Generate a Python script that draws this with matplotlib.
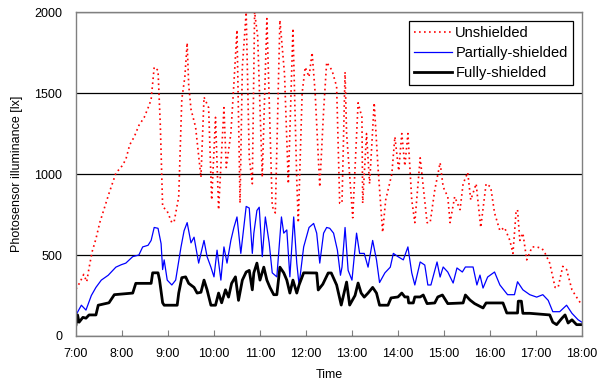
import matplotlib
matplotlib.use("Agg")
import matplotlib.pyplot as plt
import numpy as np

plt.rcParams["font.family"] = ["Liberation Sans", "DejaVu Sans"]

# ---------------------------------------------------------------------------
# Data
# ---------------------------------------------------------------------------
unshielded_t = [
    "07:00", "07:05", "07:10", "07:14", "07:17", "07:21", "07:26", "07:31", "07:37", "07:43",
    "07:52", "08:00", "08:05", "08:10", "08:16", "08:22", "08:29", "08:35", "08:38", "08:42",
    "08:47", "08:50", "08:53", "08:59", "09:05", "09:08", "09:14", "09:18", "09:22", "09:25",
    "09:27", "09:30", "09:36", "09:43", "09:47", "09:53", "09:57", "10:02", "10:06", "10:13",
    "10:16", "10:22", "10:26", "10:30", "10:34", "10:37", "10:42", "10:46", "10:50", "10:53",
    "10:57", "11:03", "11:09", "11:16", "11:20", "11:26", "11:32", "11:37", "11:43", "11:48",
    "11:50", "11:55", "11:59", "12:04", "12:08", "12:12", "12:18", "12:23", "12:27", "12:34",
    "12:40", "12:44", "12:47", "12:51", "12:53", "13:01", "13:08", "13:13", "13:14", "13:19",
    "13:23", "13:29", "13:34", "13:40", "13:44", "13:52", "13:56", "14:01", "14:05", "14:09",
    "14:13", "14:18", "14:22", "14:29", "14:33", "14:38", "14:42", "14:48", "14:55", "14:59",
    "15:05", "15:08", "15:14", "15:21", "15:25", "15:31", "15:35", "15:42", "15:48", "15:55",
    "16:01", "16:06", "16:13", "16:19", "16:26", "16:30", "16:34", "16:36", "16:39", "16:43",
    "16:48", "16:55", "17:01", "17:08", "17:12", "17:18", "17:25", "17:29", "17:35", "17:40",
    "17:47", "17:53", "18:00",
]
unshielded_v = [
    290, 330, 380, 335, 420, 520, 600, 700, 790, 880,
    1005, 1050, 1090, 1180, 1230, 1300, 1350, 1420, 1460, 1660,
    1640, 1300, 800, 770, 700, 705, 860, 1460, 1600, 1810,
    1550, 1400, 1290, 980, 1475, 1410, 840, 1350, 780, 1410,
    1040, 1250, 1560, 1890, 820, 1660, 2000, 1100, 940, 2000,
    1850, 980, 1960, 800, 760, 1950, 1620, 940, 1900, 960,
    700, 1500, 1660, 1600, 1750, 1500, 920, 1390, 1690, 1640,
    1540, 820, 820, 1630, 1250, 730, 1440, 1350, 820, 1250,
    940, 1440, 1040, 640, 840, 1000, 1230, 1020, 1250, 1050,
    1250, 840, 700, 1100, 920, 700, 700, 900, 1070, 920,
    860, 700, 860, 780, 940, 1010, 840, 940, 670, 940,
    920, 760, 650, 670, 590, 510, 760, 780, 590, 635,
    470, 550, 550, 540, 510, 450, 300, 300, 430, 410,
    285, 240, 190,
]

partial_t = [
    "07:00", "07:07", "07:13", "07:20", "07:26", "07:33", "07:42", "07:52", "07:59", "08:05",
    "08:14", "08:22", "08:27", "08:34", "08:38", "08:42", "08:47", "08:51", "08:53", "08:55",
    "08:59", "09:05", "09:10", "09:17", "09:21", "09:25", "09:30", "09:34", "09:40", "09:47",
    "09:51", "09:56", "10:00", "10:04", "10:09", "10:13", "10:17", "10:22", "10:26", "10:30",
    "10:35", "10:42", "10:46", "10:50", "10:52", "10:56", "10:59", "11:03", "11:07", "11:12",
    "11:16", "11:22", "11:28", "11:31", "11:35", "11:39", "11:44", "11:48", "11:51", "11:57",
    "12:04", "12:10", "12:14", "12:18", "12:23", "12:27", "12:31", "12:36", "12:41", "12:45",
    "12:47", "12:51", "12:55", "13:00", "13:06", "13:10", "13:16", "13:21", "13:27", "13:32",
    "13:36", "13:43", "13:50", "13:54", "14:00", "14:07", "14:13", "14:18", "14:22", "14:29",
    "14:35", "14:39", "14:43", "14:51", "14:55", "14:59", "15:05", "15:12", "15:17", "15:24",
    "15:28", "15:38", "15:43", "15:47", "15:51", "15:57", "16:06", "16:13", "16:23", "16:32",
    "16:36", "16:43", "16:52", "17:01", "17:09", "17:16", "17:22", "17:31", "17:40", "17:47",
    "17:55", "18:00",
]
partial_v = [
    130, 190, 160, 250, 300, 345, 375, 425, 440, 450,
    490, 500, 550, 560, 590, 670, 665, 570, 410, 470,
    345, 315, 345, 550, 650, 700, 575, 610, 450, 590,
    490, 425, 365, 530, 345, 550, 450, 590, 670, 735,
    510, 800, 790, 510, 635, 775, 795, 490, 735, 575,
    390, 365, 735, 635, 655, 365, 735, 450, 315, 550,
    670, 695, 635, 450, 635, 670, 665, 635, 530, 375,
    425, 670, 405, 345, 635, 510, 510, 425, 590, 470,
    330, 390, 425, 510, 490, 470, 550, 390, 315, 457,
    438, 315, 315, 457, 364, 426, 395, 327, 420, 395,
    426, 426, 315, 376, 296, 364, 395, 315, 255, 255,
    335, 285, 255, 240, 255, 220, 150, 150, 190, 140,
    100, 85,
]

full_t = [
    "07:00", "07:02", "07:04", "07:09", "07:13", "07:17", "07:26", "07:29", "07:43", "07:50",
    "08:14", "08:18", "08:38", "08:40", "08:47", "08:49", "08:53", "08:55", "09:12", "09:14",
    "09:18", "09:23", "09:27", "09:34", "09:38", "09:43", "09:47", "09:51", "09:56", "10:02",
    "10:06", "10:10", "10:15", "10:19", "10:23", "10:28", "10:32", "10:37", "10:42", "10:46",
    "10:50", "10:52", "10:56", "11:00", "11:05", "11:09", "11:13", "11:18", "11:22", "11:26",
    "11:31", "11:35", "11:39", "11:43", "11:48", "11:51", "11:57", "12:14", "12:16", "12:22",
    "12:29", "12:33", "12:40", "12:46", "12:53", "12:57", "13:04", "13:08", "13:12", "13:16",
    "13:21", "13:27", "13:32", "13:36", "13:47", "13:51", "14:00", "14:05", "14:09", "14:13",
    "14:14", "14:20", "14:22", "14:29", "14:33", "14:38", "14:48", "14:52", "14:58", "15:05",
    "15:25", "15:28", "15:34", "15:40", "15:51", "15:55", "16:17", "16:22", "16:36", "16:37",
    "16:41", "16:43", "16:52", "17:18", "17:22", "17:27", "17:34", "17:38", "17:42", "17:47",
    "17:53", "18:00",
]
full_v = [
    70, 130, 85, 115, 110, 130, 130, 190, 205, 255,
    265, 325, 325, 390, 390, 345, 205, 190, 190, 265,
    360, 365, 325, 300, 265, 270, 345, 285, 190, 190,
    265, 205, 285, 240, 325, 365, 220, 345, 395, 405,
    285, 390, 450, 345, 425, 345, 300, 255, 255, 425,
    390, 345, 265, 345, 265, 315, 390, 389, 284, 320,
    389, 389, 315, 191, 333, 191, 250, 327, 265, 240,
    265, 300, 265, 190, 190, 235, 241, 265, 241, 241,
    204, 204, 241, 241, 253, 200, 204, 241, 253, 200,
    204, 253, 222, 200, 173, 204, 204, 142, 142, 215,
    215, 140, 140, 130, 85, 70, 110, 130, 80, 100,
    70, 70,
]

x_ticks = [f"{h}:00" for h in range(7, 19)]
y_ticks = [0, 500, 1000, 1500, 2000]


def to_hours(times):
    return np.array([int(s[:2]) + int(s[3:]) / 60 for s in times])


# ---------------------------------------------------------------------------
# Plot
# ---------------------------------------------------------------------------
fig = plt.figure(figsize=(6.11, 3.9), dpi=100)
ax = fig.add_axes([0.1244, 0.1385, 0.828, 0.8305])

ax.plot(to_hours(unshielded_t), unshielded_v, color="#ff0000",
        linestyle=(0, (1, 2)), linewidth=1.2, label="Unshielded")
ax.plot(to_hours(partial_t), partial_v, color="#0000ff",
        linewidth=0.9, label="Partially-shielded")
ax.plot(to_hours(full_t), full_v, color="black",
        linewidth=2.0, label="Fully-shielded")

ax.set_xlim(7, 18)
ax.set_ylim(0, 2000)
ax.set_xticks(range(7, 19))
ax.set_xticklabels(x_ticks)
ax.set_yticks(y_ticks)
ax.yaxis.grid(True, color="black", linewidth=0.9)
ax.set_axisbelow(True)

ax.tick_params(axis="x", direction="in", length=4, color="#808080",
               labelsize=9, pad=9)
ax.tick_params(axis="y", length=0, labelsize=9, pad=10)
for s in ax.spines.values():
    s.set_color("#808080")
    s.set_linewidth(1.0)

ax.set_xlabel("Time", fontsize=9, labelpad=6)
ax.set_ylabel("Photosensor illuminance [lx]", fontsize=9, labelpad=8)

leg = ax.legend(loc="upper right", bbox_to_anchor=(0.982, 0.973), fontsize=10.5,
                fancybox=False, framealpha=1, edgecolor="black",
                borderpad=0.35, labelspacing=0.42, handlelength=2.6,
                handletextpad=0.25, borderaxespad=0)
leg.get_frame().set_linewidth(0.9)

fig.savefig("out.png", dpi=100)
